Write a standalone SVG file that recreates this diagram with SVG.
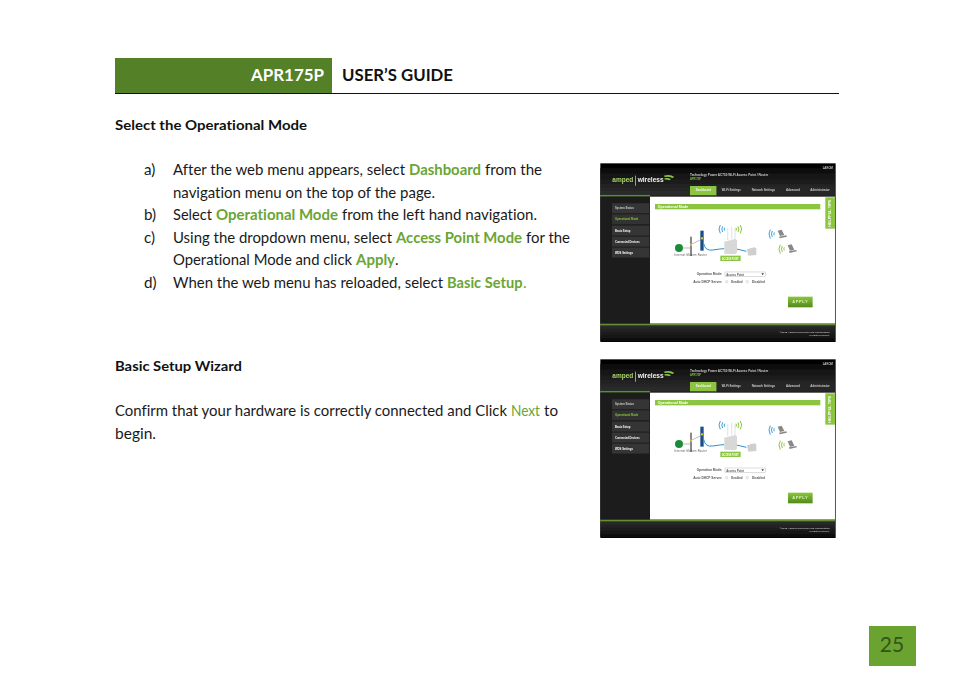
<svg xmlns="http://www.w3.org/2000/svg" xmlns:xlink="http://www.w3.org/1999/xlink" width="954" height="673" viewBox="0 0 954 673">
<style>
text{font-family:"Lato","Open Sans","Liberation Sans",sans-serif;font-variant-ligatures:none;}
.b{font-size:15.2px;fill:#1a1a1a}
.h{font-size:14px;font-weight:700;fill:#111}
.g{font-size:15.2px;font-weight:700;fill:#6aa535}
.n{font-size:15.2px;fill:#6aa535}
.s{font-family:"Liberation Sans",sans-serif;fill:#ccc;font-size:10px;font-weight:700}
.d{font-family:"Liberation Sans",sans-serif;fill:#555;font-size:10px;font-weight:700}
</style>
<defs>
<linearGradient id="hd" x1="0" y1="0" x2="0" y2="1"><stop offset="0" stop-color="#0b0b0b"/><stop offset="1" stop-color="#2e2e2e"/></linearGradient>
<linearGradient id="ft" x1="0" y1="0" x2="0" y2="1"><stop offset="0" stop-color="#2c2c2c"/><stop offset="1" stop-color="#0c0c0c"/></linearGradient>
<linearGradient id="ap" x1="0" y1="0" x2="0" y2="1"><stop offset="0" stop-color="#8cc63f"/><stop offset="1" stop-color="#4f8a1c"/></linearGradient>
<filter id="bl" x="-5%" y="-5%" width="110%" height="110%"><feGaussianBlur stdDeviation="1.4"/></filter>
<g id="shot">
<rect x="16" y="10" width="706" height="536" fill="#000"/>
<g filter="url(#bl)">
<rect x="16" y="25" width="704" height="80" fill="url(#hd)"/>
<rect x="16" y="105" width="149" height="5" fill="#5f8f2c"/>
<rect x="165" y="105" width="555" height="5" fill="#222"/>
<rect x="16" y="110" width="149" height="381" fill="#1d1d1d"/>
<rect x="165" y="110" width="555" height="381" fill="#fff"/>
<rect x="16" y="491" width="704" height="6" fill="#668f34"/>
<rect x="16" y="497" width="704" height="46" fill="url(#ft)"/>
<rect x="285" y="78" width="80" height="28" fill="#8cc63f"/>
<rect x="365" y="78" width="355" height="27" fill="#252525"/>
<text x="325" y="94" class="s" text-anchor="middle" style="fill:#f4f4f4" textLength="46" lengthAdjust="spacingAndGlyphs">Dashboard</text>
<text x="409" y="94" class="s" text-anchor="middle" textLength="58" lengthAdjust="spacingAndGlyphs">Wi-Fi Settings</text>
<text x="505" y="94" class="s" text-anchor="middle" textLength="70" lengthAdjust="spacingAndGlyphs">Network Settings</text>
<text x="594" y="94" class="s" text-anchor="middle" textLength="42" lengthAdjust="spacingAndGlyphs">Advanced</text>
<text x="675" y="94" class="s" text-anchor="middle" textLength="58" lengthAdjust="spacingAndGlyphs">Administrator</text>
<text x="683" y="27" class="s" style="font-size:10px" textLength="31" lengthAdjust="spacingAndGlyphs">LAKOM</text>
<text x="52" y="67" style="fill:#a8d36a;font-size:21px;font-weight:700;font-family:'Liberation Sans',sans-serif" textLength="63" lengthAdjust="spacingAndGlyphs">amped</text>
<rect x="121" y="47" width="2" height="30" fill="#ddd"/>
<text x="128" y="67" style="fill:#f0f0f0;font-size:21px;font-weight:700;font-family:'Liberation Sans',sans-serif" textLength="78" lengthAdjust="spacingAndGlyphs">wireless</text>
<path d="M206 47q20-6 32 4l-6 3q-10-6-22-3zM208 55q12-3 20 3l-6 3q-6-4-12-2z" fill="#8cc63f"/>
<text x="285" y="49" class="s" style="font-size:9px" textLength="235" lengthAdjust="spacingAndGlyphs">Technology Power AC750 Wi-Fi Access Point / Router</text>
<text x="285" y="59" class="s" style="font-size:9px;fill:#8cc63f" textLength="33" lengthAdjust="spacingAndGlyphs">APR175P</text>
<g id="side">
<rect x="51" y="130" width="112" height="30" fill="#363636"/><rect x="51" y="163" width="112" height="30" fill="#303030"/><rect x="51" y="197" width="112" height="30" fill="#363636"/><rect x="51" y="230" width="112" height="30" fill="#363636"/><rect x="51" y="263" width="112" height="30" fill="#363636"/>
<text x="60" y="148" class="s" textLength="57" lengthAdjust="spacingAndGlyphs">System Status</text>
<text x="60" y="181" class="s" style="fill:#8cc63f" textLength="70" lengthAdjust="spacingAndGlyphs">Operational Mode</text>
<text x="60" y="215" class="s" style="fill:#fff" textLength="46" lengthAdjust="spacingAndGlyphs">Basic Setup</text>
<text x="60" y="248" class="s" style="fill:#fff" textLength="74" lengthAdjust="spacingAndGlyphs">Connected Devices</text>
<text x="60" y="281" class="s" style="fill:#fff" textLength="54" lengthAdjust="spacingAndGlyphs">WDS Settings</text>
</g>
<rect x="180" y="132" width="496" height="16" fill="#8cc63f"/>
<text x="188" y="144" class="s" style="fill:#fff" textLength="92" lengthAdjust="spacingAndGlyphs">Operational Mode</text>
<rect x="691" y="112" width="29" height="94" fill="#8cc63f"/>
<text transform="translate(709,200) rotate(-90)" class="s" style="font-size:9px;fill:#fff" textLength="80" lengthAdjust="spacingAndGlyphs">HELPFUL TIPS</text>
<circle cx="252" cy="264" r="12" fill="#1f8a3a"/>
<rect x="285" y="230" width="6" height="58" fill="#8a8a8a"/>
<rect x="316" y="212" width="10" height="60" fill="#1d4f86"/>
<rect x="286" y="251" width="5" height="6" fill="#e6c72a"/><rect x="318" y="232" width="6" height="6" fill="#e6c72a"/>
<path d="M262 264H285M291 252L316 240" stroke="#999" stroke-width="2" fill="none"/>
<path d="M326 250q4 24 28 20t34-4M420 266l34 8" stroke="#2f8fd0" stroke-width="3" fill="none"/>
<path d="M398 205V240M410 200V238M420 205V240" stroke="#e8e8e8" stroke-width="4"/>
<path d="M388 245l32-8 6 3v38l-6 5-32-2z" fill="#d8d8d8"/>
<path d="M456 268l22-6 6 3v20l-24 2z" fill="#cfcfcf"/>
<g fill="none" stroke-width="3">
<path d="M376 195q-8 12 0 25M383 199q-5 8 0 17M389 203q-3 4 0 9" stroke="#3aa0d8"/>
<path d="M436 195q8 12 0 25M429 199q5 8 0 17M423 203q3 4 0 9" stroke="#8cc63f"/>
<path d="M526 209q-8 12 0 27M532 213q-5 8 0 18M538 217q-3 4 0 9" stroke="#3aa0d8"/>
<path d="M556 254q-8 12 0 27M562 258q-5 8 0 18M568 262q-3 4 0 9" stroke="#8cc63f"/>
</g>
<path d="M548 212l12-3 8 16-13 3zM552 230l22-4 2 4-22 5z" fill="#888"/>
<path d="M578 256l12-3 8 16-13 3zM582 274l22-4 2 4-22 5z" fill="#888"/>
<rect x="376" y="287" width="61" height="16" fill="#8cc63f"/>
<text x="406" y="299" class="s" text-anchor="middle" style="font-size:9px;fill:#fff" textLength="50" lengthAdjust="spacingAndGlyphs">ACCESS POINT</text>
<text x="238" y="288" class="d" style="font-size:8px;font-weight:400" textLength="98" lengthAdjust="spacing">Internet  Modem  Router</text>
<text x="382" y="346" class="d" text-anchor="end" textLength="77" lengthAdjust="spacingAndGlyphs">Operation Mode:</text>
<rect x="390" y="336" width="122" height="14" fill="#fff" stroke="#bbb" stroke-width="1.5"/>
<text x="394" y="347" class="d" textLength="53" lengthAdjust="spacingAndGlyphs">Access Point</text>
<path d="M499 340h8l-4 6z" fill="#444"/>
<text x="382" y="369" class="d" text-anchor="end" textLength="87" lengthAdjust="spacingAndGlyphs">Auto DHCP Server:</text>
<circle cx="395" cy="365" r="3.5" fill="#fff" stroke="#999"/><text x="409" y="369" class="d" textLength="34" lengthAdjust="spacingAndGlyphs">Enabled</text>
<circle cx="457" cy="365" r="3.5" fill="#fff" stroke="#999"/><text x="471" y="369" class="d" textLength="39" lengthAdjust="spacingAndGlyphs">Disabled</text>
<rect x="579" y="410" width="74" height="32" fill="url(#ap)"/>
<text x="616" y="430" class="s" text-anchor="middle" style="font-size:12px;fill:#d9efb5;letter-spacing:2px">APPLY</text>
<text x="704" y="518" class="s" text-anchor="end" style="font-size:7px;fill:#bbb" textLength="150" lengthAdjust="spacingAndGlyphs">©2013 Amped Wireless/Amp Corporation</text>
<text x="704" y="528" class="s" text-anchor="end" style="font-size:7px;fill:#bbb" textLength="63" lengthAdjust="spacingAndGlyphs">All rights reserved.</text>
</g>
</g>
</defs>

<g id="header">
<rect x="115" y="58" width="217" height="35" fill="#548027"/>
<rect x="115" y="93" width="724" height="1" fill="#111"/>
<text x="251" y="81" style="font-size:17.6px;font-weight:700;fill:#fff" textLength="73" lengthAdjust="spacingAndGlyphs">APR175P</text>
<text x="342" y="81" style="font-size:17.6px;font-weight:700;fill:#111" textLength="111" lengthAdjust="spacingAndGlyphs">USER’S GUIDE</text>
</g>

<g id="section-1">
<text x="115" y="130" class="h" textLength="192" lengthAdjust="spacingAndGlyphs">Select the Operational Mode</text>
<text x="144" y="175" class="b">a)</text>
<text x="173" y="175" class="b" textLength="232" lengthAdjust="spacingAndGlyphs">After the web menu appears, select</text>
<text x="409" y="175" class="g" textLength="72" lengthAdjust="spacingAndGlyphs">Dashboard</text>
<text x="485" y="175" class="b" textLength="57" lengthAdjust="spacingAndGlyphs">from the</text>
<text x="173" y="198" class="b" textLength="262" lengthAdjust="spacingAndGlyphs">navigation menu on the top of the page.</text>
<text x="144" y="220" class="b">b)</text>
<text x="173" y="220" class="b" textLength="39" lengthAdjust="spacingAndGlyphs">Select</text>
<text x="216" y="220" class="g" textLength="122" lengthAdjust="spacingAndGlyphs">Operational Mode</text>
<text x="342" y="220" class="b" textLength="195" lengthAdjust="spacingAndGlyphs">from the left hand navigation.</text>
<text x="144" y="243" class="b">c)</text>
<text x="173" y="243" class="b" textLength="219" lengthAdjust="spacingAndGlyphs">Using the dropdown menu, select</text>
<text x="396" y="243" class="g" textLength="126" lengthAdjust="spacingAndGlyphs">Access Point Mode</text>
<text x="526" y="243" class="b" textLength="44" lengthAdjust="spacingAndGlyphs">for the</text>
<text x="173" y="265" class="b" textLength="179" lengthAdjust="spacingAndGlyphs">Operational Mode and click</text>
<text x="356" y="265" class="g" textLength="39" lengthAdjust="spacingAndGlyphs">Apply</text>
<text x="395" y="265" class="b">.</text>
<text x="144" y="288" class="b">d)</text>
<text x="173" y="288" class="b" textLength="270" lengthAdjust="spacingAndGlyphs">When the web menu has reloaded, select</text>
<text x="447" y="288" class="g" textLength="75.5" lengthAdjust="spacingAndGlyphs">Basic Setup</text>
<text x="523" y="288" class="n">.</text>
</g>

<g id="section-2">
<text x="115" y="371" class="h" textLength="127" lengthAdjust="spacingAndGlyphs">Basic Setup Wizard</text>
<text x="115" y="416" class="b" textLength="392" lengthAdjust="spacingAndGlyphs">Confirm that your hardware is correctly connected and Click</text>
<text x="511" y="416" class="n" textLength="29" lengthAdjust="spacingAndGlyphs">Next</text>
<text x="544" y="416" class="b" textLength="14" lengthAdjust="spacingAndGlyphs">to</text>
<text x="115" y="439" class="b" textLength="41" lengthAdjust="spacingAndGlyphs">begin.</text>
</g>

<g id="screenshot-1" transform="translate(595,160) scale(.3333)"><use href="#shot"/></g>
<g id="screenshot-2" transform="translate(595,356) scale(.3333)"><use href="#shot"/></g>

<g id="page-number">
<rect x="869" y="626" width="47" height="40" fill="#6aa32f"/>
<text x="892" y="652" text-anchor="middle" style="font-size:21px;fill:#35541a">25</text>
</g>
</svg>
